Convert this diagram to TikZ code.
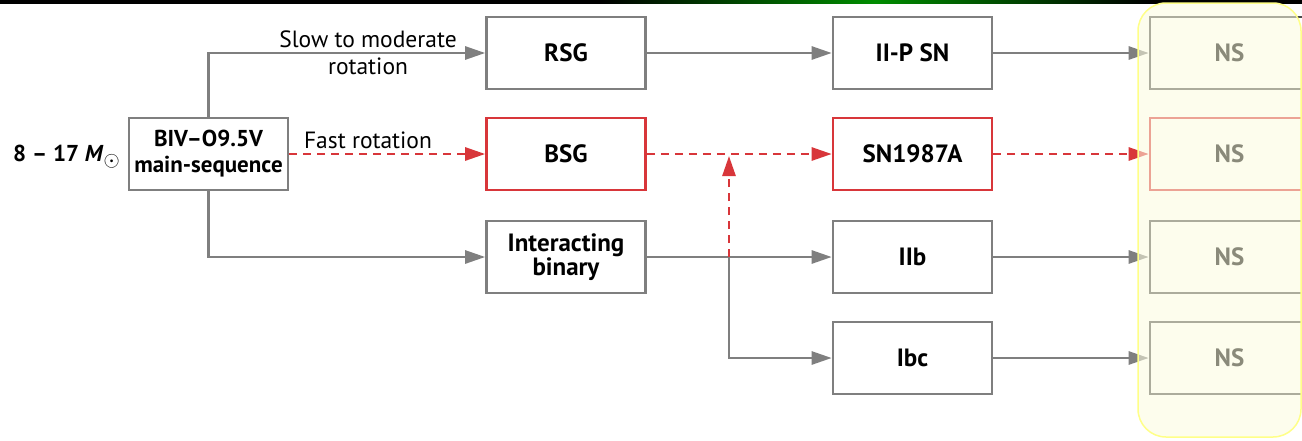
\documentclass[tikz,border=0pt]{standalone}
\usepackage{fontspec}
\setmainfont{PT Sans}
\usetikzlibrary{arrows.meta}
\definecolor{lg}{HTML}{7F7F7F}
\definecolor{rd}{HTML}{D8363A}
\definecolor{ylfill}{HTML}{FDFDE0}
\definecolor{ylline}{HTML}{FFFF88}
\definecolor{nsg}{HTML}{4A4A4A}
\begin{document}
\begin{tikzpicture}[x=1pt,y=-1pt,
  box/.style={draw=lg,line width=2.6pt,minimum width=159pt,minimum height=72pt,inner sep=0pt,align=center,font=\bfseries\fontsize{25}{24}\selectfont,fill=white},
  rbox/.style={box,draw=rd},
  nsbox/.style={box,draw=nsg},
  ar/.style={draw=lg,line width=2.6pt,-{Triangle[length=20pt,width=13pt]}},
  rar/.style={draw=rd,line width=2.6pt,dash pattern=on 8pt off 6pt,-{Triangle[length=20pt,width=13pt]}},
  lab/.style={font=\fontsize{23.5}{27}\selectfont,align=center}]
\useasboundingbox (0,0) rectangle (1302,440);
\clip (0,0) rectangle (1302,440);
\fill[white] (0,0) rectangle (1302,440);
\fill[black] (0,0) rectangle (1302,4);
\shade[left color=black,right color=black,middle color=green!55!black] (600,0) rectangle (1150,3.5);
% nodes
\node[box,font=\bfseries\fontsize{23}{26}\selectfont] (ms) at (208.5,154) {BIV–O9.5V\\main-sequence};
\node[font=\bfseries\fontsize{23}{24}\selectfont,anchor=east,inner sep=0pt] (mass) at (120,157) {8 – 17 \textit{M}\raisebox{-5pt}{\fontsize{20}{20}\selectfont$\odot$}};
\node[box] (rsg) at (566,53) {RSG};
\node[rbox] (bsg) at (566,154) {BSG};
\node[box] (ib) at (566,257) {Interacting\\binary};
\node[box] (iip) at (912.5,53) {II-P SN};
\node[rbox] (sn) at (912.5,154) {SN1987A};
\node[box] (iib) at (912.5,257) {IIb};
\node[box] (ibc) at (912.5,358) {Ibc};
\node[nsbox] (ns1) at (1229.5,53) {NS};
\node[rbox] (ns2) at (1229.5,154) {NS};
\node[nsbox] (ns3) at (1229.5,257) {NS};
\node[nsbox] (ns4) at (1229.5,358) {NS};
% connectors
\draw[ar] (ms.north) |- (rsg.west);
\draw[ar] (ms.south) |- (ib.west);
\draw[rar] (ms.east) -- (bsg.west);
\node[lab] (l1) at (368,53) {Slow to moderate\\rotation};
\node[lab] (l2) at (368,140) {Fast rotation};
\draw[ar] (rsg.east) -- (iip.west);
\draw[rar] (bsg.east) -- (sn.west);
\draw[ar] (ib.east) -- (iib.west);
\coordinate (j) at (729,257);
\coordinate (jt) at (729,156);
\draw[ar] (j) |- (ibc.west);
\draw[rar] (j) -- (jt);
\draw[ar] (iip.east) -- (ns1.west);
\draw[rar] (sn.east) -- (ns2.west);
\draw[ar] (iib.east) -- (ns3.west);
\draw[ar] (ibc.east) -- (ns4.west);
% yellow overlay
\draw[draw=ylline,line width=1.5pt,fill=ylfill,fill opacity=0.55,rounded corners=28pt] (1138,3) rectangle (1301,437);
\end{tikzpicture}
\end{document}
